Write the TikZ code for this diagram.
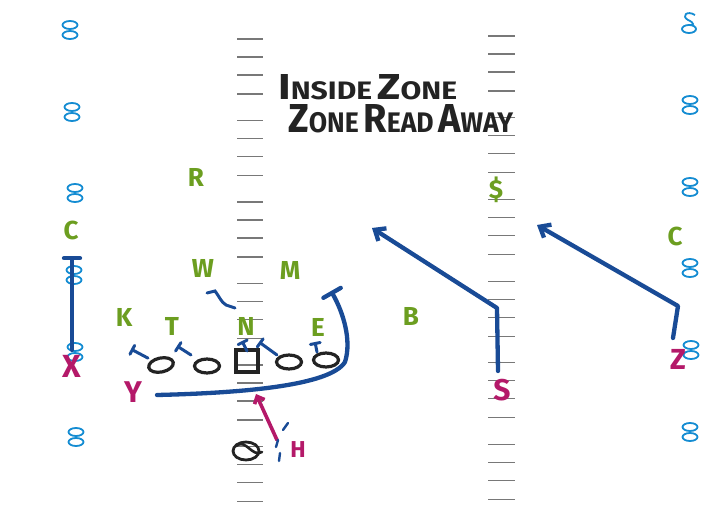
\documentclass[tikz,border=0pt]{standalone}
\usepackage{fontspec}
\usepackage{graphicx}
\usetikzlibrary{arrows.meta,shapes.geometric}
\newfontfamily\markfont{Fira Sans}
\definecolor{grn}{RGB}{108,158,32}
\definecolor{navy}{RGB}{25,75,150}
\definecolor{mag}{RGB}{180,25,105}
\definecolor{numblue}{RGB}{20,140,210}
\definecolor{ink}{RGB}{35,35,35}
\definecolor{hashgray}{RGB}{120,120,120}
\newcommand\yardpair[2]{%
  \begin{scope}[shift={(#1,#2)}]
    \draw[yardnum] (0,-5) ellipse [x radius=7.5pt, y radius=4pt];
    \draw[yardnum] (0,5) ellipse [x radius=7.5pt, y radius=4pt];
  \end{scope}}
\newcommand\BL[1]{{\fontsize{20}{20}\selectfont #1}}
\newcommand\SL[1]{{\fontsize{14}{14}\selectfont #1}}
\begin{document}
\begin{tikzpicture}[x=1pt,y=-1pt,
  lbl/.style={inner sep=0pt, font=\markfont\bfseries\fontsize{26}{26}\selectfont},
  defn/.style={lbl, text=grn},
  offn/.style={lbl, text=mag},
  route/.style={draw=navy, line width=4.3pt, line cap=round, line join=round},
  arr/.style={route, -{Straight Barb[length=9pt,width=15pt]}},
  blk/.style={draw=navy, line width=3pt, line cap=round, -{Bar[width=10pt,line cap=round]}},
  hash/.style={draw=hashgray, line width=1.1pt},
  yardnum/.style={draw=numblue, line width=1.8pt},
  lman/.style={draw=ink, line width=3.2pt, ellipse, minimum width=25pt, minimum height=14pt, inner sep=0pt},
  title/.style={inner sep=0pt, anchor=south west, text=ink}
]
\useasboundingbox[fill=white] (0,0) rectangle (718,508);

% hash marks
\foreach \g in {0,...,5}{
  \foreach \o in {0,18,36,55}{
    \pgfmathsetmacro\ya{39+81.5*\g+\o}
    \pgfmathsetmacro\yb{36+81.7*\g+\o}
    \draw[hash] (237,\ya) -- (263,\ya);
    \draw[hash] (488,\yb) -- (515,\yb);
  }}

% yard numbers
\yardpair{70}{30}
\yardpair{72}{112}
\yardpair{75}{193}
\yardpair{74}{275}
\yardpair{75}{352}
\yardpair{76}{437}
\yardpair{690}{105}
\yardpair{690}{187}
\yardpair{690}{268}
\yardpair{691}{350}
\yardpair{690}{432}
\draw[yardnum] (689,29) ellipse [x radius=7pt, y radius=4pt];
\draw[yardnum] (695,15) .. controls (687,10) and (681,16) .. (688,20) .. controls (695,23) and (694,26) .. (689,25);

% title
\node[title] (t1) at (278,100) {\resizebox{179pt}{25pt}{\markfont\bfseries\BL{I}\SL{NSIDE} \BL{Z}\SL{ONE}}};
\node[title] (t2) at (288,133) {\resizebox{225pt}{28pt}{\markfont\bfseries\BL{Z}\SL{ONE} \BL{R}\SL{EAD} \BL{A}\SL{WAY}}};

% offensive line
\node[lman, rotate=12] (LT) at (161,365) {};
\node[lman] (LG) at (207,366) {};
\node[draw=ink, line width=3.2pt, minimum width=22pt, minimum height=22pt, inner sep=0pt] (C) at (247,361) {};
\node[lman] (RG) at (289,362) {};
\node[lman] (RT) at (326,360) {};
\node[draw=ink, line width=2.8pt, ellipse, minimum width=26pt, minimum height=18pt, inner sep=0pt] (QB) at (246,451) {};
\draw[ink, line width=2.6pt, line cap=round] (236,446) .. controls (246,438) and (252,458) .. (262,452);

% defense labels
\node[defn] (R) at (196,177) {R};
\node[defn] (CL) at (71,230) {C};
\node[defn] (W) at (203,268) {W};
\node[defn] (M) at (290,270) {M};
\node[defn] (K) at (124,317) {K};
\node[defn] (T) at (172,326) {T};
\node[defn] (N) at (246,326) {N};
\node[defn] (E) at (318,327) {E};
\node[defn] (B) at (411,316) {B};
\node[defn] (D) at (496,190) {\$};
\node[defn] (CR) at (675,236) {C};

% offense labels
\node[offn, font=\markfont\bfseries\fontsize{32}{32}\selectfont] (X) at (72,366) {X};
\node[offn, font=\markfont\bfseries\fontsize{30}{30}\selectfont] (Y) at (133,392) {Y};
\node[offn, font=\markfont\bfseries\fontsize{30}{30}\selectfont] (S) at (502,390) {S};
\node[offn, font=\markfont\bfseries\fontsize{29}{29}\selectfont] (Z) at (678,359) {Z};
\node[offn, font=\markfont\bfseries\fontsize{23}{23}\selectfont] (H) at (298,450) {H};

% route coordinates
\coordinate (x0) at (72,350);
\coordinate (x1) at (72,256);
\coordinate (y0) at (157,395);
\coordinate (y1) at (345,362);
\coordinate (y2) at (331,291);
\coordinate (s0) at (498,371);
\coordinate (s1) at (497,308);
\coordinate (s2) at (372,228);
\coordinate (z0) at (673,338);
\coordinate (z1) at (678,306);
\coordinate (z2) at (537,225);
\coordinate (h0) at (277,440);
\coordinate (h1) at (256,394);

% routes
\draw[route, -{Bar[width=16pt,line cap=round]}] (x0) -- (x1);
\draw[route, -{Bar[width=20pt,line cap=round]}] (y0) .. controls (240,393) and (330,386) .. (y1) .. controls (352,340) and (343,312) .. (y2);
\draw[arr] (s0) -- (s1) -- (s2);
\draw[arr] (z0) -- (z1) -- (z2);
\draw[draw=mag, line width=3.6pt, line cap=round, -{Straight Barb[length=6pt,width=11pt]}] (h0) -- (h1);

% blocks
\draw[blk] (LT.north west) ++(-2,-3) coordinate (b1) -- ++(-17,-9);
\draw[blk] (191,355) -- (177,346);
\draw[blk] (247,351) -- (242,341);
\draw[blk] (277,355) -- (259,342);
\draw[blk] (317,352) -- (315,342);
\draw[navy, line width=3pt, line cap=round] (207,293) -- (215,291) .. controls (219,296) and (221,302) .. (226,305) -- (235,308);

% QB read ticks
\draw[navy, line width=2.4pt, line cap=round] (283,430) -- (288,423);
\draw[navy, line width=2.4pt, line cap=round] (276,447) -- (278,440);
\draw[navy, line width=2.4pt, line cap=round] (280,453) -- (279,461);
\end{tikzpicture}
\end{document}
